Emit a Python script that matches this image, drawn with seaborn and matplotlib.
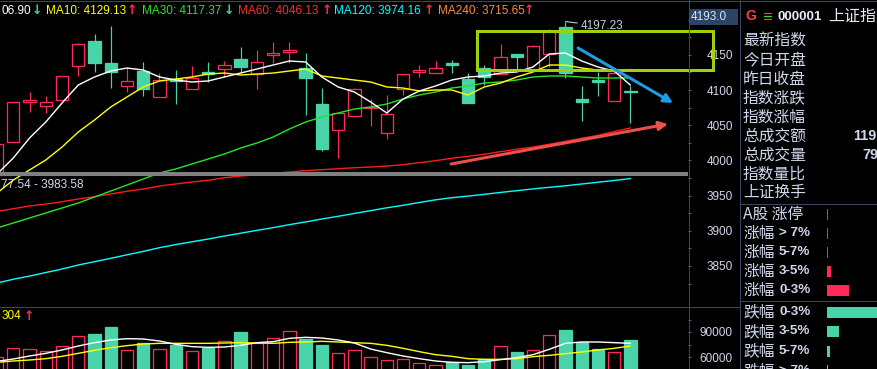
import numpy as np
import pandas as pd
import matplotlib
matplotlib.use("Agg")
import matplotlib.pyplot as plt
from matplotlib.patches import Rectangle, FancyArrowPatch
from matplotlib.ticker import FixedLocator
import matplotlib.transforms as mtransforms
import seaborn as sns

# ---------------- data ----------------
candle_idx = list(range(1, 41))
opens = [3979.0, 4026.1, 4083.0, 4077.3, 4085.8, 4134.1, 4169.6, 4138.4, 4105.7, 4127.0,
         4090.1, 4115.6, 4101.4, 4125.6, 4129.8, 4144.0, 4122.7, 4149.7, 4154.4, 4131.7,
         4080.1, 4042.7, 4063.5, 4074.0, 4039.3, 4101.4, 4125.6, 4124.2, 4138.8, 4115.2,
         4130.8, 4122.3, 4151.1, 4128.4, 4150.7, 4190.0, 4087.2, 4113.8, 4084.8, 4099.0]
highs = [4023.3, 4083.0, 4097.2, 4091.5, 4119.9, 4166.8, 4179.5, 4190.9, 4132.7, 4139.8,
         4124.1, 4128.4, 4134.1, 4139.8, 4141.2, 4161.1, 4156.8, 4168.2, 4168.2, 4153.0,
         4102.4, 4067.0, 4102.8, 4086.8, 4092.5, 4122.3, 4135.5, 4141.2, 4142.6, 4123.7,
         4135.5, 4165.3, 4151.1, 4163.9, 4186.2, 4197.23, 4105.7, 4126.0, 4128.4, 4105.7]
lows = [3975.0, 4026.1, 4068.7, 4067.3, 4085.8, 4119.9, 4125.6, 4102.8, 4097.2, 4091.5,
        4090.1, 4080.1, 4101.4, 4111.4, 4118.5, 4124.1, 4101.4, 4138.4, 4138.4, 4064.5,
        4013.8, 4003.8, 4063.5, 4048.9, 4030.8, 4092.9, 4118.0, 4124.2, 4124.6, 4081.1,
        4107.1, 4122.3, 4128.4, 4128.4, 4133.1, 4116.6, 4056.0, 4091.5, 4084.8, 4052.7]
closes = [4023.3, 4083.0, 4085.8, 4083.0, 4119.9, 4165.3, 4138.4, 4125.6, 4112.8, 4101.4,
          4114.2, 4112.8, 4117.0, 4122.7, 4135.5, 4132.7, 4139.8, 4152.3, 4157.2, 4117.5,
          4016.7, 4066.9, 4101.0, 4076.3, 4065.5, 4122.3, 4128.4, 4131.0, 4136.0, 4081.9,
          4118.9, 4146.4, 4146.4, 4162.5, 4181.9, 4123.7, 4082.5, 4111.5, 4123.7, 4096.7]

ma5 = [3980.7, 4003.4, 4031.8, 4054.5, 4081.5, 4107.1, 4118.5, 4127.0, 4131.2, 4128.4,
       4118.5, 4114.2, 4111.4, 4112.8, 4118.5, 4124.1, 4129.8, 4135.5, 4141.2, 4139.8,
       4118.5, 4104.3, 4097.2, 4083.0, 4067.3, 4087.2, 4098.6, 4105.7, 4114.2, 4118.5,
       4119.9, 4124.1, 4125.6, 4132.7, 4151.1, 4152.6, 4141.2, 4132.7, 4127.0, 4106.9]
ma10 = [3953.7, 3972.1, 3986.4, 4000.6, 4019.0, 4040.3, 4057.4, 4075.9, 4090.1, 4104.3,
        4112.8, 4115.6, 4118.5, 4122.7, 4124.1, 4121.3, 4122.7, 4124.1, 4127.0, 4129.8,
        4119.9, 4117.0, 4114.2, 4111.4, 4104.3, 4102.8, 4098.6, 4100.0, 4100.0, 4092.9,
        4104.3, 4109.9, 4118.5, 4125.6, 4135.5, 4135.5, 4131.2, 4128.4, 4127.0, 4129.1]
ma30 = [3904.0, 3911.1, 3918.2, 3925.3, 3932.4, 3939.5, 3948.0, 3956.5, 3965.0, 3973.6,
        3982.1, 3987.8, 3994.9, 4002.0, 4009.1, 4017.6, 4024.7, 4033.2, 4044.6, 4054.5,
        4061.6, 4067.3, 4073.0, 4075.9, 4080.1, 4087.2, 4092.9, 4097.2, 4102.8, 4105.7,
        4109.9, 4111.4, 4114.2, 4118.5, 4119.9, 4119.9, 4118.5, 4117.0, 4117.0, 4117.4]
ma60 = [3927.4, 3931.4, 3935.2, 3938.0, 3941.3, 3945.2, 3948.4, 3952.3, 3956.1, 3959.4,
        3963.6, 3966.5, 3969.3, 3971.7, 3975.4, 3977.8, 3979.7, 3981.7, 3983.5, 3985.4,
        3986.8, 3988.2, 3989.6, 3990.6, 3992.0, 3993.9, 3996.7, 3999.6, 4003.0, 4005.8,
        4008.7, 4012.4, 4015.8, 4019.0, 4022.9, 4027.1, 4031.4, 4035.6, 4041.0, 4046.1]
ma120 = [3825.8, 3831.2, 3835.7, 3840.7, 3845.7, 3851.4, 3856.1, 3860.9, 3865.9, 3870.7,
         3876.0, 3880.4, 3884.4, 3888.3, 3892.6, 3896.6, 3900.6, 3904.5, 3908.7, 3912.6,
         3916.8, 3920.6, 3924.6, 3928.6, 3932.7, 3936.2, 3940.2, 3944.0, 3947.0, 3949.3,
         3951.8, 3954.5, 3957.0, 3959.5, 3961.8, 3963.9, 3966.5, 3969.0, 3971.5, 3974.2]

volumes = [59600, 70400, 69200, 66800, 72800, 84800, 87600, 96000, 68000, 76400,
           69200, 74400, 66800, 71200, 78800, 90000, 77200, 82400, 90800, 81600,
           74400, 64400, 68000, 59600, 56000, 57200, 52400, 50000, 53600, 50400,
           57200, 72800, 66000, 68000, 86000, 92400, 77600, 69200, 65600, 80400]
vol_ma5 = [54800, 57600, 61200, 64400, 68400, 73200, 77200, 80400, 82000, 81600,
           79200, 75200, 72400, 71600, 72000, 74000, 77200, 78400, 82400, 83600,
           82800, 80400, 76800, 69600, 65200, 61200, 58000, 55200, 53600, 53200,
           54400, 56800, 59200, 62800, 69200, 76400, 78000, 78000, 77200, 76400]
vol_ma10 = [53600, 55200, 56400, 58000, 60800, 64400, 68000, 71200, 73600, 75600,
            76400, 76400, 76400, 76400, 76800, 77200, 76800, 76400, 77600, 78000,
            78800, 78000, 77200, 76400, 74000, 70400, 66400, 62800, 60800, 58000,
            57200, 57200, 58000, 60400, 62000, 64000, 66000, 68400, 70400, 73200]

price_ticks = [3850, 3900, 3950, 4000, 4050, 4100, 4150]
volume_ticks = [60000, 90000]
band_low, band_high = 3977.54, 3983.58
band_text = "77.54 - 3983.58"
peak_value = 4197.23
current_label = "4193.0"

legend_texts = ["06.90", "MA10: 4129.13", "MA30: 4117.37",
                "MA60: 4046.13", "MA120: 3974.16", "MA240: 3715.65"]
legend_dirs = ["↓", "↑", "↓", "↑", "↑", "↑"]

info_labels = ["最新指数", "今日开盘", "昨日收盘", "指数涨跌", "指数涨幅",
               "总成交额", "总成交量", "指数量比", "上证换手"]
info_values = ["", "", "", "", "", "119", "79", "", ""]

up_names = ["A股 涨停", "涨幅", "涨幅", "涨幅", "涨幅"]
up_ranges = ["", "> 7%", "5-7%", "3-5%", "0-3%"]
up_counts = [1, 1, 1, 4, 22]
down_names = ["跌幅", "跌幅", "跌幅", "跌幅"]
down_ranges = ["0-3%", "3-5%", "5-7%", "> 7%"]
down_counts = [62, 12, 3, 1]

# ---------------- style ----------------
sns.set_theme(style="dark", rc={"axes.facecolor": "black", "figure.facecolor": "black"})
plt.rcParams["font.family"] = ["Liberation Sans", "Noto Sans CJK SC", "DejaVu Sans"]

W, H, DPI = 877, 369, 100
PX = 72.0 / DPI
RED = "#ff2a5a"
GREEN = "#48d4a8"
LINE = "#3a4662"
TXT = "#d0d8ec"
CJK = ["Noto Sans CJK SC", "DejaVu Sans"]

def fx(x):
    return x / W

def fy(y):
    return 1 - y / H

fig = plt.figure(figsize=(W / DPI, H / DPI), dpi=DPI)
fig.patch.set_facecolor("black")

AX_RIGHT = 688
MAIN_BOTTOM = 307
ax = fig.add_axes([0, fy(MAIN_BOTTOM), fx(AX_RIGHT), MAIN_BOTTOM / H])
axv = fig.add_axes([0, 0, fx(AX_RIGHT), (H - MAIN_BOTTOM) / H])
for a in (ax, axv):
    a.set_facecolor("black")
    for s in a.spines.values():
        s.set_visible(False)

XLIM = (1.181, 43.545)
BW = 0.76

# candles
for i, o, h, l, c in zip(candle_idx, opens, highs, lows, closes):
    up = c >= o
    col = RED if up else GREEN
    lo_b, hi_b = min(o, c), max(o, c)
    body = max(hi_b - lo_b, 1.4)
    if l < lo_b:
        ax.vlines(i, l, lo_b, color=col, lw=1.2 * PX, zorder=2)
    if h > hi_b:
        ax.vlines(i, hi_b, h, color=col, lw=1.2 * PX, zorder=2)
    ax.add_patch(Rectangle((i - BW / 2, lo_b), BW, body,
                           facecolor="black" if up else col, edgecolor=col,
                           lw=1.3 * PX, zorder=3))

df = pd.DataFrame({"idx": candle_idx, "ma5": ma5, "ma10": ma10, "ma30": ma30,
                   "ma60": ma60, "ma120": ma120,
                   "vol_ma5": vol_ma5, "vol_ma10": vol_ma10})
for col_name, color in [("ma120", "#00ffff"), ("ma60", "#ff1a1a"), ("ma30", "#22e622"),
                        ("ma10", "#ffff00"), ("ma5", "#ffffff")]:
    sns.lineplot(data=df, x="idx", y=col_name, ax=ax, color=color, linewidth=1.4 * PX,
                 zorder=5, legend=False)

ax.axhspan(band_low, band_high, color="#808080", lw=0, zorder=6)
ax.text(1 / AX_RIGHT, 3965.0, band_text,
        transform=mtransforms.blended_transform_factory(ax.transAxes, ax.transData),
        ha="left", va="center", color=TXT, fontsize=8.5, zorder=7)

ax.annotate("4197.23", xy=(36, peak_value), xytext=(15 * PX, -4.4 * PX), textcoords="offset points",
            ha="left", va="center", color="#c4ccdc", fontsize=8.5, zorder=8,
            arrowprops=dict(arrowstyle="-", color="#c4ccdc", lw=0.8, shrinkA=0, shrinkB=0))

ax.set_xlim(*XLIM)
ax.set_ylim(3791.75, 4227.85)
ax.set_xlabel("")
ax.set_ylabel("")
ax.set_xticks([])

# volume
for i, v, o, c in zip(candle_idx, volumes, opens, closes):
    up = c >= o
    col = RED if up else GREEN
    axv.add_patch(Rectangle((i - BW / 2, 0), BW, v, facecolor="black" if up else col,
                            edgecolor=col, lw=1.3 * PX, zorder=3))
sns.lineplot(data=df, x="idx", y="vol_ma10", ax=axv, color="#ffff00", linewidth=1.4 * PX, zorder=5, legend=False)
sns.lineplot(data=df, x="idx", y="vol_ma5", ax=axv, color="#ffffff", linewidth=1.4 * PX, zorder=5, legend=False)
axv.set_xlim(*XLIM)
axv.set_ylim(45600, 120000)
axv.set_xlabel("")
axv.set_ylabel("")
axv.set_xticks([])

# right-side tick labels
TICKLEN = 3 * PX
PAD = 45 * PX - TICKLEN
for a, major, minor in [(ax, price_ticks, list(np.arange(3825, 4201, 25))),
                        (axv, volume_ticks, [75000, 105000])]:
    a.yaxis.tick_right()
    a.yaxis.set_major_locator(FixedLocator(major))
    a.yaxis.set_minor_locator(FixedLocator(minor))
    a.set_yticklabels([str(t) for t in major])
    a.tick_params(axis="y", which="both", direction="out", length=TICKLEN, width=PX,
                  color="#5a6890", labelcolor=TXT, labelsize=8.5, pad=PAD, right=True, left=False)
    for t in a.yaxis.get_major_ticks():
        t.label2.set_horizontalalignment("right")

# top legend texts
leg_x = [1, 46, 142, 238, 334, 438]
leg_colors = ["#ffffff", "#ffff00", "#22e622", "#ff2a2a", "#00ffff", "#ff8a40"]
arrow_x = [32, 127, 224, 322, 424, 524]
for k, (s, d) in enumerate(zip(legend_texts, legend_dirs)):
    fig.text(fx(leg_x[k]), fy(10.5), s, color=leg_colors[k], fontsize=8.5, ha="left", va="center")
    fig.text(fx(arrow_x[k]), fy(10.5), d, color=(GREEN if d == "↓" else "#ff2a4a"),
             fontsize=9, ha="left", va="center", family=["DejaVu Sans"], weight="bold")

fig.text(fx(2), fy(316), "304", color="#ffff00", fontsize=8.5, ha="left", va="center")
fig.text(fx(24), fy(316), "↑", color="#ff2a4a", fontsize=9, ha="left", va="center",
         family=["DejaVu Sans"], weight="bold")

# right info panel
fig.text(fx(745), fy(16.5), "G", color="#ff4040", fontsize=10, weight="bold", ha="left", va="center")
fig.text(fx(777), fy(16.5), "000001", color="#e8ecf8", fontsize=9.7, weight="bold", ha="left", va="center")
fig.text(fx(828), fy(16.5), "上证指数", color="#e8ecf8", fontsize=11.5, ha="left", va="center", family=CJK)

for k, s in enumerate(info_labels):
    y = 41.5 + 18.9 * k
    fig.text(fx(743), fy(y), s, color=TXT, fontsize=11.3, ha="left", va="center", family=CJK)
    if info_values[k]:
        fig.text(fx(853 if len(info_values[k]) == 3 else 862), fy(y), info_values[k], color=TXT,
                 fontsize=10.4, weight="bold", ha="left", va="center")

up_y = [214 + 19 * k for k in range(5)]
down_y = [312 + 19.5 * k for k in range(4)]
for y, n, r in zip(up_y, up_names, up_ranges):
    fig.text(fx(743), fy(y), n, color=TXT, fontsize=11.3, ha="left", va="center", family=CJK)
    if r:
        fig.text(fx(779), fy(y), r, color=TXT, fontsize=9.6, weight="bold", ha="left", va="center")
for y, n, r in zip(down_y, down_names, down_ranges):
    fig.text(fx(743), fy(y), n, color=TXT, fontsize=11.3, ha="left", va="center", family=CJK)
    fig.text(fx(779), fy(y), r, color=TXT, fontsize=9.6, weight="bold", ha="left", va="center")

axu = fig.add_axes([fx(827), fy(299.5), 50 / W, 95 / H])
sns.barplot(x=up_counts, y=["s0", "s1", "s2", "s3", "s4"], orient="h", color=RED, saturation=1,
            width=11 / 19, ax=axu, linewidth=0)
axu.set_xlim(0, 50)
axu.axis("off")
axd = fig.add_axes([fx(827), fy(380.25), 50 / W, 78 / H])
sns.barplot(x=down_counts, y=["d0", "d1", "d2", "d3"], orient="h", color=GREEN, saturation=1,
            width=11 / 19.5, ax=axd, linewidth=0)
axd.set_xlim(0, 50)
axd.axis("off")

# overlay: frame lines and drawn annotations
ov = fig.add_axes([0, 0, 1, 1], zorder=20)
ov.set_xlim(0, W)
ov.set_ylim(H, 0)
ov.axis("off")
ov.patch.set_alpha(0)
lw1 = 1.0 * PX
ov.plot([0, W], [0.5, 0.5], color=LINE, lw=lw1)
ov.plot([688.5, 688.5], [0, H], color=LINE, lw=lw1)
ov.plot([739.5, 739.5], [0, H], color=LINE, lw=lw1)
ov.plot([0, 740], [307, 307], color=LINE, lw=lw1)
ov.plot([740, W], [204, 204], color=LINE, lw=lw1)
ov.plot([740, W], [301, 301], color=LINE, lw=lw1)

ov.add_patch(Rectangle((689, 9), 49, 16, facecolor="#2b4468", edgecolor="none"))
ov.text(690.5, 17.5, current_label, color="#dde4f4", fontsize=8.5, ha="left", va="center")

for yy, cc in [(12.5, "#ff3030"), (15.8, "#30e030"), (19.2, "#ff3030")]:
    ov.plot([763.5, 770.5], [yy, yy], color=cc, lw=1.3 * PX)

ov.add_patch(Rectangle((476.5, 31), 236.5, 39, facecolor="none", edgecolor="#9fd00c", lw=3 * PX))
ov.add_patch(FancyArrowPatch((578, 48), (673, 103), arrowstyle="-|>", mutation_scale=13,
                             color="#1a9ee6", lw=3 * PX, shrinkA=0, shrinkB=0))
ov.add_patch(FancyArrowPatch((451, 164), (668, 124), arrowstyle="-|>", mutation_scale=13,
                             color="#e9514c", lw=3 * PX, shrinkA=0, shrinkB=0))

fig.savefig("out.png", dpi=DPI, facecolor="black")
